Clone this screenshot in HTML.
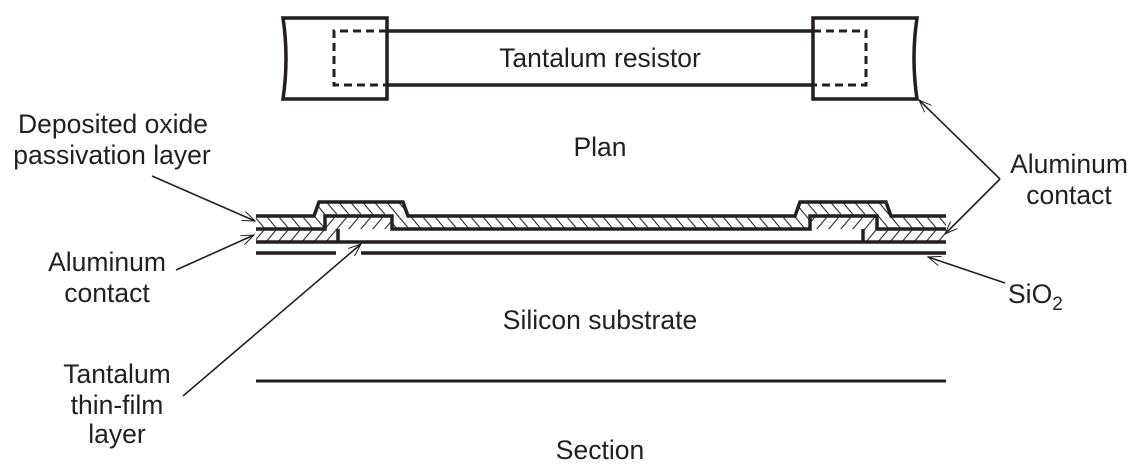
<!DOCTYPE html>
<html><head><meta charset="utf-8"><style>
html,body{margin:0;padding:0;background:#fff;}
svg{display:block;}
text{font-family:"Liberation Sans",Arial,sans-serif;font-size:26.5px;fill:#231f20;}
</style></head><body>
<svg width="1138" height="467" viewBox="0 0 1138 467">
<defs>
<pattern id="hOx" width="12" height="14" patternUnits="userSpaceOnUse" patternTransform="skewX(40)"><line x1="1" y1="0" x2="1" y2="14" stroke="#222" stroke-width="1.4"/></pattern>
<pattern id="hAl" width="12" height="14" patternUnits="userSpaceOnUse" patternTransform="skewX(-40)"><line x1="1" y1="0" x2="1" y2="14" stroke="#222" stroke-width="1.4"/></pattern>
<marker id="ar" markerWidth="14" markerHeight="10" refX="13" refY="5" orient="auto" markerUnits="userSpaceOnUse"><path d="M0,0 L13,5 L0,10" fill="none" stroke="#231f20" stroke-width="1"/></marker>
</defs>

<g stroke="#231f20" fill="none">
<path d="M283,18 L387,18 L387,99 L283,99 Q289,58 283,18Z" stroke-width="3.5"/>
<path d="M813,18 L917,18 Q911,58 917,99 L813,99 Z" stroke-width="3.5"/>
<path d="M387,31 L334,31 L334,85 L387,85" stroke-width="3" stroke-dasharray="8,5"/>
<path d="M813,31 L866,31 L866,85 L813,85" stroke-width="3" stroke-dasharray="8,5"/>
<line x1="387" y1="31" x2="813" y2="31" stroke-width="3.5"/>
<line x1="387" y1="85" x2="813" y2="85" stroke-width="3.5"/>
</g>
<text x="600" y="67" text-anchor="middle">Tantalum resistor</text>
<text x="600" y="156" text-anchor="middle">Plan</text>

<g>
<path fill="url(#hOx)" d="M256,216 L314,216 L319,202 L403,202 L408,216 L946,216 L946,229 L877,229 L877,216 L810,216 L810,229 L392,229 L392,216 L325,216 L325,229 L256,229Z"/>
<path fill="url(#hOx)" d="M795,216 L800,202 L886,202 L891,216Z"/>
<path fill="url(#hAl)" d="M256,229 L325,229 L325,216 L392,216 L392,229 L338,229 L338,242 L256,242Z"/>
<path fill="url(#hAl)" d="M810,229 L810,216 L877,216 L877,229 L946,229 L946,242 L863,242 L863,229Z"/>
<g stroke="#231f20" fill="none" stroke-width="3.5" stroke-linejoin="miter">
<path d="M256,216 L314,216 L319,202 L403,202 L408,216 L795,216 L800,202 L886,202 L891,216 L946,216"/>
<path d="M256,229 L325,229 L325,216 L392,216 L392,229 L810,229 L810,216 L877,216 L877,229 L946,229"/>
<path d="M338,242 L338,229 M863,229 L863,242"/>
<line x1="256" y1="242" x2="946" y2="242"/>
<path d="M256,253 L336,253 M361,253 L946,253"/>
<line x1="256" y1="381" x2="946" y2="381" stroke-width="3"/>
</g>
</g>

<g stroke="#231f20" stroke-width="1.6" fill="none">
<line x1="152" y1="176" x2="255" y2="221" marker-end="url(#ar)"/>
<line x1="176" y1="270" x2="254" y2="235" marker-end="url(#ar)"/>
<line x1="183" y1="396" x2="361" y2="244" marker-end="url(#ar)"/>
<line x1="1000" y1="179" x2="919" y2="100" marker-end="url(#ar)"/>
<line x1="1000" y1="179" x2="945" y2="234" marker-end="url(#ar)"/>
<line x1="1005" y1="283" x2="928" y2="257" marker-end="url(#ar)"/>
</g>

<text x="113" y="133" text-anchor="middle">Deposited oxide</text>
<text x="112" y="164" text-anchor="middle">passivation layer</text>
<text x="107" y="271" text-anchor="middle">Aluminum</text>
<text x="107" y="302" text-anchor="middle">contact</text>
<text x="117" y="383" text-anchor="middle">Tantalum</text>
<text x="117" y="414" text-anchor="middle">thin-film</text>
<text x="117" y="443" text-anchor="middle">layer</text>
<text x="1069" y="173" text-anchor="middle">Aluminum</text>
<text x="1069" y="204" text-anchor="middle">contact</text>
<text x="1008" y="303">SiO<tspan dy="7" font-size="19">2</tspan></text>
<text x="600" y="329" text-anchor="middle">Silicon substrate</text>
<text x="600" y="459" text-anchor="middle">Section</text>
</svg>
</body></html>
